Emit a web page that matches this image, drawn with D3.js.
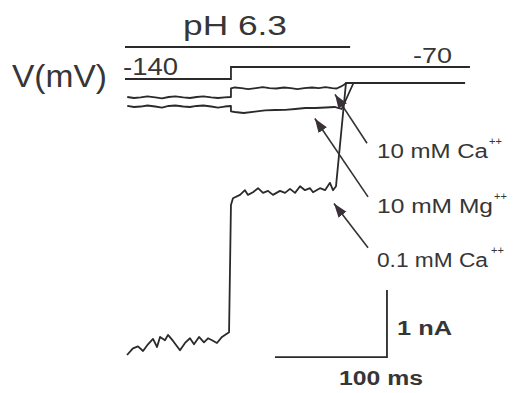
<!DOCTYPE html>
<html>
<head>
<meta charset="utf-8">
<script src="https://cdn.jsdelivr.net/npm/d3@7"></script>
<style>
  html, body { margin: 0; padding: 0; background: #ffffff; }
  svg { display: block; }
  text { font-family: "Liberation Sans", Arial, Helvetica, sans-serif; fill: #363636; }
</style>
</head>
<body>
<svg id="chart" width="517" height="393"></svg>
<script>
// ---- Data -------------------------------------------------------------
// Time in ms from the start of the pH 6.3 application; current in nA
// (0 = holding level at -70 mV after the traces converge).

// Voltage protocol
const vTime = [0, 94.6, 94.6, 308];
const vLevel = [-140, -140, -70, -70];
const vLabels = ["-140", "-70"];

// pH application bar (ms)
const phSpan = [0, 201];
const phLabel = "pH 6.3";

// 10 mM Ca++ trace
const caHighTime = [2, 8, 14, 20, 27, 33, 39, 45, 52, 58, 64, 70, 77, 83, 89, 94.6,
  94.6, 98, 104, 110, 117, 123, 129, 135, 142, 148, 154, 160, 167, 173, 179, 185, 189,
  192.5, 195.5, 197.5, 303.6];
const caHighCurrent = [-0.209, -0.224, -0.216, -0.201, -0.216, -0.231, -0.209, -0.201,
  -0.216, -0.224, -0.209, -0.201, -0.216, -0.224, -0.216, -0.209,
  -0.082, -0.067, -0.075, -0.090, -0.075, -0.060, -0.075, -0.082, -0.067, -0.075,
  -0.090, -0.075, -0.067, -0.075, -0.060, -0.075, -0.082, -0.055, -0.025, 0, 0];

// 10 mM Mg++ trace
const mgTime = [2, 8, 14, 20, 27, 33, 39, 45, 52, 58, 64, 70, 77, 83, 89, 94.6,
  94.6, 98, 106, 116, 125, 134, 143, 152, 161, 170, 179, 187, 193.5, 204, 303.6];
const mgCurrent = [-0.343, -0.358, -0.351, -0.336, -0.351, -0.366, -0.343, -0.336,
  -0.351, -0.358, -0.343, -0.336, -0.351, -0.366, -0.351, -0.343,
  -0.425, -0.433, -0.448, -0.428, -0.410, -0.403, -0.400, -0.388, -0.373, -0.373,
  -0.366, -0.358, -0.388, 0, 0];

// 0.1 mM Ca++ trace
const caLowTime = [1.8, 7.1, 11.6, 16.1, 20.5, 25.0, 28.6, 31.3, 35.7, 38.4, 42.9,
  49.1, 53.6, 58.0, 61.6, 66.1, 70.5, 74.1, 77.7, 82.1, 86.6, 90.2, 92.9, 94.6,
  96.4, 102.7, 107.1, 109.8, 114.3, 118.8, 123.2, 127.7, 132.1, 138.4, 142.9, 147.3,
  151.8, 156.3, 160.7, 165.2, 167.9, 174.1, 178.6, 183.0, 185.7, 188.4, 197.3, 303.6];
const caLowCurrent = [-4.06, -3.96, -3.93, -4.00, -3.90, -3.82, -3.94, -3.79, -3.84,
  -3.76, -3.85, -3.99, -3.88, -3.81, -3.90, -3.79, -3.87, -3.81, -3.84, -3.88, -3.79,
  -3.75, -3.72, -1.82, -1.72, -1.67, -1.60, -1.67, -1.63, -1.57, -1.64, -1.61, -1.67,
  -1.61, -1.64, -1.58, -1.64, -1.54, -1.60, -1.57, -1.63, -1.57, -1.60, -1.49, -1.60,
  -1.54, 0, 0];

// Trace labels and arrow anchors (tip and tail in ms / nA)
const traceNames = ["10 mM Ca", "10 mM Mg", "0.1 mM Ca"];
const arrowTipTime = [187.5, 169.5, 186.6];
const arrowTipCurrent = [-0.17, -0.53, -1.80];
const arrowTailTime = [216.1, 217.0, 217.0];
const arrowTailCurrent = [-0.90, -1.70, -2.46];

// Scale bar
const barTime = 100;      // ms
const barCurrent = 1;     // nA
const barLabels = ["1 nA", "100 ms"];

// ---- Scales -------------------------------------------------------------
const svg = d3.select("#chart");
const x = d3.scaleLinear().domain([0, 100]).range([125, 237]);
const y = d3.scaleLinear().domain([0, -1]).range([83, 150]);
const yV = d3.scaleLinear().domain([-140, -70]).range([79, 67]);

const ink = "#2a2a2a";
const line = d3.line().x(d => x(d[0])).y(d => y(d[1]));

// ---- pH bar and label -----------------------------------------------------
svg.append("line")
  .attr("x1", x(phSpan[0])).attr("x2", x(phSpan[1]))
  .attr("y1", 47).attr("y2", 47)
  .attr("stroke", ink).attr("stroke-width", 2);

svg.append("text")
  .attr("x", 183).attr("y", 35)
  .attr("font-size", 28)
  .attr("textLength", 104).attr("lengthAdjust", "spacingAndGlyphs")
  .text(phLabel);

// ---- Voltage protocol ------------------------------------------------------
svg.append("path")
  .datum(vTime.map((t, i) => [t, vLevel[i]]))
  .attr("fill", "none").attr("stroke", ink).attr("stroke-width", 1.8)
  .attr("d", d3.line().x(d => x(d[0])).y(d => yV(d[1])));

svg.append("text")
  .attr("x", 12).attr("y", 87)
  .attr("font-size", 32)
  .attr("textLength", 95).attr("lengthAdjust", "spacingAndGlyphs")
  .text("V(mV)");

svg.append("text")
  .attr("x", 123).attr("y", 75)
  .attr("font-size", 24)
  .attr("textLength", 55).attr("lengthAdjust", "spacingAndGlyphs")
  .text(vLabels[0]);

svg.append("text")
  .attr("x", 413).attr("y", 63)
  .attr("font-size", 22)
  .attr("textLength", 39).attr("lengthAdjust", "spacingAndGlyphs")
  .text(vLabels[1]);

// ---- Current traces --------------------------------------------------------
const traces = [
  caHighTime.map((t, i) => [t, caHighCurrent[i]]),
  mgTime.map((t, i) => [t, mgCurrent[i]]),
  caLowTime.map((t, i) => [t, caLowCurrent[i]])
];
svg.selectAll("path.trace")
  .data(traces)
  .join("path")
  .attr("class", "trace")
  .attr("fill", "none")
  .attr("stroke", ink)
  .attr("stroke-width", 1.8)
  .attr("stroke-linejoin", "round")
  .attr("d", line);

// ---- Arrows and labels -------------------------------------------------------
svg.append("defs").append("marker")
  .attr("id", "head")
  .attr("markerUnits", "userSpaceOnUse")
  .attr("viewBox", "-14 -6 16 12")
  .attr("refX", 0).attr("refY", 0)
  .attr("markerWidth", 16).attr("markerHeight", 12)
  .attr("orient", "auto")
  .append("path")
  .attr("d", "M0,0 L-14,-5 L-14,5 Z")
  .attr("fill", "#3a3038");

svg.selectAll("line.arrow")
  .data(traceNames)
  .join("line")
  .attr("class", "arrow")
  .attr("x1", (d, i) => x(arrowTailTime[i]))
  .attr("y1", (d, i) => y(arrowTailCurrent[i]))
  .attr("x2", (d, i) => x(arrowTipTime[i]))
  .attr("y2", (d, i) => y(arrowTipCurrent[i]))
  .attr("stroke", "#333")
  .attr("stroke-width", 1.6)
  .attr("marker-end", "url(#head)");

const labelBase = [158, 213, 267];
const labelWidth = [111, 116, 111];
const supX = [489, 494, 491];
traceNames.forEach((name, i) => {
  svg.append("text")
    .attr("x", 377).attr("y", labelBase[i])
    .attr("font-size", 20)
    .attr("textLength", labelWidth[i]).attr("lengthAdjust", "spacingAndGlyphs")
    .text(name);
  svg.append("text")
    .attr("x", supX[i]).attr("y", labelBase[i] - 13)
    .attr("font-size", 11)
    .text("++");
});

// ---- Scale bar -------------------------------------------------------------
const bx = 233.9, by = -4.09;
svg.append("path")
  .attr("fill", "none").attr("stroke", ink).attr("stroke-width", 1.8)
  .attr("d", d3.line()([
    [x(bx - barTime), y(by)],
    [x(bx), y(by)],
    [x(bx), y(by + barCurrent)]
  ]));

svg.append("text")
  .attr("x", 397).attr("y", 335)
  .attr("font-size", 20).attr("font-weight", "bold")
  .attr("textLength", 55).attr("lengthAdjust", "spacingAndGlyphs")
  .text(barLabels[0]);

svg.append("text")
  .attr("x", 339).attr("y", 385)
  .attr("font-size", 20).attr("font-weight", "bold")
  .attr("textLength", 84).attr("lengthAdjust", "spacingAndGlyphs")
  .text(barLabels[1]);
</script>
</body>
</html>
